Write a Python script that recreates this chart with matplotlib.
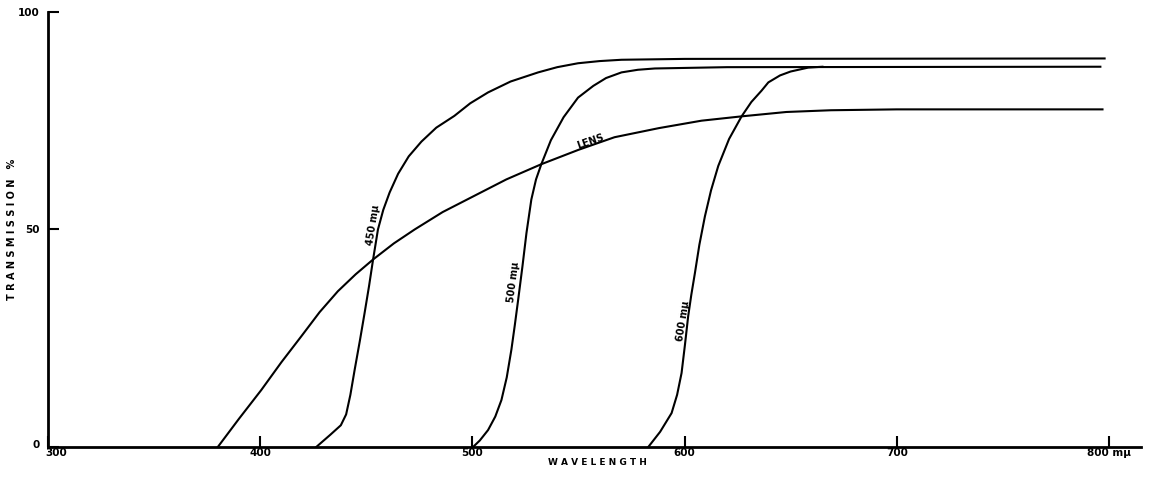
import matplotlib
matplotlib.use('Agg')
import matplotlib.pyplot as plt
import matplotlib.transforms as mtransforms

# ── Data (wavelength nm, transmission %) ──
lens_wl = [380, 390, 400.5, 410, 419.3, 428, 436.6, 445, 453.2, 463, 472.8, 486, 500,
           516, 532.5, 550, 567, 588, 608, 627, 648, 669, 700, 797]
lens_t  = [0, 6.5, 13.1, 19.5, 25.4, 31, 35.8, 39.7, 43.1, 46.8, 50, 54, 57.5,
           61.5, 65, 68.3, 71.2, 73.3, 75, 76, 77, 77.4, 77.6, 77.6]

f450_wl = [426.4, 433, 438, 440.5, 442.5, 444.5, 447, 449.2, 451.3, 453.2, 455.5, 458,
           461, 465, 470, 476, 483, 491.5, 499, 507.4, 518, 531, 540, 549.8, 560,
           570.3, 600, 798]
f450_t  = [0, 2.8, 5, 7.5, 12, 17.7, 24.5, 30.8, 37, 43.1, 50, 54.5,
           58.5, 62.8, 66.8, 70.2, 73.4, 76.1, 79, 81.5, 84, 86.1, 87.3, 88.2, 88.7,
           89, 89.2, 89.3]

f500_wl = [500.3, 503.5, 507.4, 510.8, 513.7, 516.2, 518.4, 520, 521.6, 523.6, 525.5,
           527.8, 530, 532.5, 537, 543, 549.8, 557, 563, 570.3, 578, 586, 620, 796]
f500_t  = [0, 1.5, 3.9, 7, 10.8, 16, 22.4, 28, 33.9, 41.5, 49.2,
           56.9, 61.5, 65, 70.5, 75.8, 80.3, 83, 84.8, 86.1, 86.7, 87, 87.3, 87.4]

f600_wl = [582.9, 588.5, 593.9, 596.5, 598.6, 600.2, 601.7, 603.2, 604.9, 607, 609.6,
           612.5, 615.9, 621, 626.9, 631.5, 636.3, 639.5, 645, 650, 658.3, 665]
f600_t  = [0, 3.5, 7.8, 12, 17, 23.5, 30, 35, 40, 46.5, 53,
           59, 64.6, 70.8, 76, 79.3, 81.9, 83.8, 85.4, 86.3, 87.2, 87.4]

x_ticks = [300, 400, 500, 600, 700, 800]
x_labels = ['300', '400', '500', '600', '700', '800 mμ']
y_ticks = [0, 50, 100]

fig = plt.figure(figsize=(11.55, 4.84), dpi=100)
ax = fig.add_axes([0.0416, 0.0764, 0.946, 0.899])

lw = 1.5
for wl, t in [(lens_wl, lens_t), (f450_wl, f450_t),
              (f500_wl, f500_t), (f600_wl, f600_t)]:
    ax.plot(wl, t, color='black', linewidth=lw, solid_joinstyle='round')

ax.set_xlim(300, 815)
ax.set_ylim(0, 100)
for s in ['top', 'right']:
    ax.spines[s].set_visible(False)
for s in ['left', 'bottom']:
    ax.spines[s].set_linewidth(2)

ax.set_xticks(x_ticks)
ax.set_xticklabels(x_labels, fontsize=7.5, fontweight='bold')
ax.set_yticks(y_ticks)
ax.set_yticklabels([str(v) for v in y_ticks], fontsize=7.5, fontweight='bold')
ax.tick_params(axis='both', direction='in', length=8, width=1.5)
ax.tick_params(axis='x', pad=1)
ax.tick_params(axis='y', pad=6)

# "300" sits a little right of the corner, "0" a little above it
shift_x = mtransforms.ScaledTranslation(8 / 100, 0, fig.dpi_scale_trans)
lbl300 = ax.get_xticklabels()[0]
lbl300.set_transform(lbl300.get_transform() + shift_x)
shift_y = mtransforms.ScaledTranslation(0, 3 / 100, fig.dpi_scale_trans)
lbl0 = ax.get_yticklabels()[0]
lbl0.set_transform(lbl0.get_transform() + shift_y)

ax.set_xlabel('W A V E L E N G T H', fontsize=6.5, fontweight='bold')
ax.xaxis.set_label_coords(0.503, -0.025)
ax.set_ylabel('T R A N S M I S S I O N   %', fontsize=7, fontweight='bold')
ax.yaxis.set_label_coords(-0.028, 0.5)

# curve labels, set on the lines
lab = dict(fontsize=7, fontweight='bold', ha='center', va='center')
ax.text(453.3, 51, '450 mμ', rotation=81, **lab)
ax.text(519.6, 38, '500 mμ', rotation=83, **lab)
ax.text(599.6, 29, '600 mμ', rotation=81, **lab)
ax.text(555.5, 70.2, 'LENS', rotation=19, **lab)

fig.savefig('out.png', dpi=100)
